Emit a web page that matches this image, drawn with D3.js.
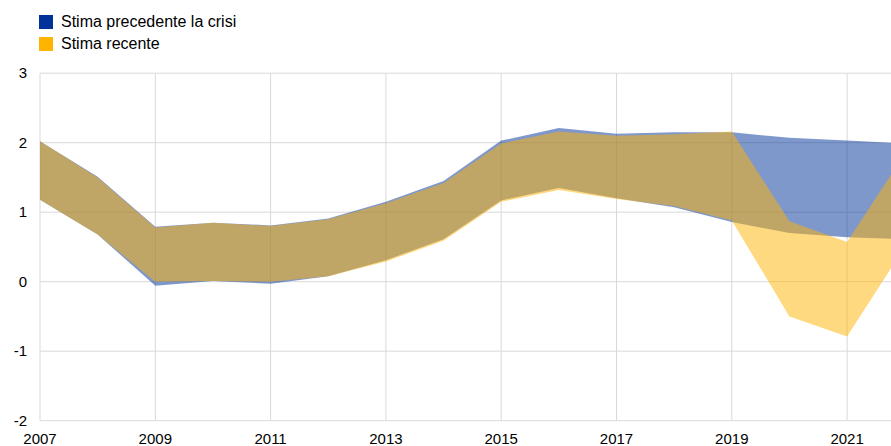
<!DOCTYPE html>
<html>
<head>
<meta charset="utf-8">
<script src="https://cdn.jsdelivr.net/npm/d3@7"></script>
<style>
  body { margin: 0; background: #fff; }
  svg { display: block; font-family: "Liberation Sans", Arial, sans-serif; }
</style>
</head>
<body>
<div id="chart"></div>
<script>
// data
const years = [2007, 2008, 2009, 2010, 2011, 2012, 2013, 2014, 2015, 2016, 2017, 2018, 2019, 2020, 2021, 2022];
const preLow  = [1.18, 0.68, -0.06, 0.01, -0.03, 0.08, 0.31, 0.61, 1.17, 1.35, 1.20, 1.07, 0.86, 0.70, 0.64, 0.61];
const preHigh = [2.02, 1.51, 0.79, 0.85, 0.81, 0.91, 1.15, 1.45, 2.03, 2.21, 2.13, 2.15, 2.15, 2.07, 2.03, 1.99];
const recLow  = [1.18, 0.68, 0.00, 0.01, 0.00, 0.08, 0.29, 0.59, 1.15, 1.32, 1.19, 1.09, 0.88, -0.50, -0.79, 0.50];
const recHigh = [2.02, 1.50, 0.78, 0.85, 0.80, 0.90, 1.13, 1.42, 1.99, 2.16, 2.10, 2.12, 2.16, 0.87, 0.57, 1.84];
const seriesNames = ["Stima precedente la crisi", "Stima recente"];
const seriesColors = ["#003299", "#ffb400"];
const yTicks = [-2, -1, 0, 1, 2, 3];
const xTicks = [2007, 2009, 2011, 2013, 2015, 2017, 2019, 2021];

const W = 891, H = 446;
const svg = d3.select("#chart").append("svg").attr("width", W).attr("height", H);

// the plot runs past the right edge (2022 is cut off)
const x = d3.scaleLinear().domain([2007, 2022]).range([40, 40 + 15 * 57.65]);
const y = d3.scaleLinear().domain([-2, 3]).range([420.7, 73.2]);

// gridlines
svg.append("g").selectAll("line").data(yTicks).enter().append("line")
    .attr("x1", x(2007)).attr("x2", W)
    .attr("y1", d => y(d)).attr("y2", d => y(d))
    .style("stroke", "#d9d9d9").style("stroke-width", 1);
svg.append("g").selectAll("line").data(xTicks).enter().append("line")
    .attr("x1", d => x(d)).attr("x2", d => x(d))
    .attr("y1", y(3)).attr("y2", y(-2))
    .style("stroke", "#d9d9d9").style("stroke-width", 1);

// bands
const bands = [
    years.map((yr, i) => ({yr: yr, lo: preLow[i], hi: preHigh[i]})),
    years.map((yr, i) => ({yr: yr, lo: recLow[i], hi: recHigh[i]}))
];
const area = d3.area().x(d => x(d.yr)).y0(d => y(d.lo)).y1(d => y(d.hi));
svg.append("g").selectAll("path").data(bands).enter().append("path")
    .attr("d", area)
    .style("fill", (d, i) => seriesColors[i])
    .style("fill-opacity", 0.5);

// y labels
svg.append("g").selectAll("text").data(yTicks).enter().append("text")
    .attr("x", 27).attr("y", d => y(d) + 5)
    .attr("text-anchor", "end")
    .style("font-size", "15px").style("fill", "#000")
    .text(d => d);

// x labels
svg.append("g").selectAll("text").data(xTicks).enter().append("text")
    .attr("x", d => x(d)).attr("y", 444)
    .attr("text-anchor", "middle")
    .style("font-size", "15px").style("fill", "#000")
    .text(d => d);

// legend
const legend = svg.append("g");
legend.selectAll("rect").data(seriesNames).enter().append("rect")
    .attr("x", 39).attr("y", (d, i) => 15 + i * 22)
    .attr("width", 14).attr("height", 14)
    .attr("fill", (d, i) => seriesColors[i]);
legend.selectAll("text").data(seriesNames).enter().append("text")
    .attr("x", 61).attr("y", (d, i) => 27 + i * 22)
    .style("font-size", "16px").style("fill", "#000")
    .text(d => d);
</script>
</body>
</html>
